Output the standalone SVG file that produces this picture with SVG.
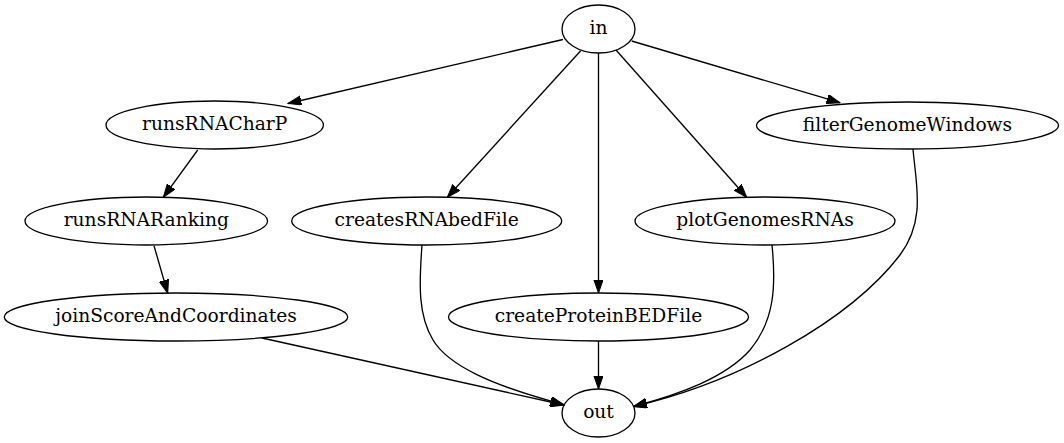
<svg xmlns="http://www.w3.org/2000/svg" width="1064" height="443" viewBox="0 0 1064 443">
<style>
.n ellipse{fill:none;stroke:#000;stroke-width:1.33}
.n text{font-family:"DejaVu Serif","Liberation Serif",serif;font-size:18.67px;text-anchor:middle;fill:#000}
.e path{fill:none;stroke:#000;stroke-width:1.33;marker-end:url(#ah)}
</style>
<defs>
<marker id="ah" markerUnits="userSpaceOnUse" markerWidth="14" markerHeight="10" refX="13.33" refY="4.67" orient="auto">
<polygon points="0,0 13.33,4.67 0,9.33" fill="#000" stroke="#000" stroke-width="1"/>
</marker>
</defs>
<rect width="1064" height="443" fill="#fff"/>
<g id="edges" class="e">
<path d="M563,39.5 L288,103.5"/>
<path d="M580.7,50.7 L447.3,197.3"/>
<path d="M598.5,53 L598.5,293"/>
<path d="M616,50 L746.7,197.3"/>
<path d="M631.7,41 L840,102.7"/>
<path d="M197.7,150 L163.3,197.3"/>
<path d="M154,245.7 L167.7,293.3"/>
<path d="M262,338 L564,405"/>
<path d="M422,245 C419,285 418,315 433,340 C448,365 490,385 563.5,404.5"/>
<path d="M598.5,341 L598.5,389"/>
<path d="M772,245 C776,285 775,320 750,350 C725,378 680,394 633.5,406.5"/>
<path d="M913,149 C916,185 926,220 900,255 C850,320 740,382 633.5,406.5"/>
</g>
<g id="in" class="n"><ellipse cx="598.5" cy="29" rx="36.5" ry="24"/><text x="598.5" y="34">in</text></g>
<g id="runsRNACharP" class="n"><ellipse cx="214.7" cy="125" rx="108.7" ry="24"/><text x="214.7" y="130">runsRNACharP</text></g>
<g id="filterGenomeWindows" class="n"><ellipse cx="907.5" cy="125.5" rx="151" ry="23.5"/><text x="907.5" y="130.5">filterGenomeWindows</text></g>
<g id="runsRNARanking" class="n"><ellipse cx="146.3" cy="221" rx="121.3" ry="24"/><text x="146.3" y="226">runsRNARanking</text></g>
<g id="createsRNAbedFile" class="n"><ellipse cx="426.7" cy="221" rx="135" ry="24"/><text x="426.7" y="226">createsRNAbedFile</text></g>
<g id="plotGenomesRNAs" class="n"><ellipse cx="765" cy="221" rx="130" ry="24"/><text x="765" y="226">plotGenomesRNAs</text></g>
<g id="joinScoreAndCoordinates" class="n"><ellipse cx="176" cy="317" rx="171.7" ry="24"/><text x="176" y="322">joinScoreAndCoordinates</text></g>
<g id="createProteinBEDFile" class="n"><ellipse cx="598.5" cy="317" rx="150" ry="24"/><text x="598.5" y="322">createProteinBEDFile</text></g>
<g id="out" class="n"><ellipse cx="598.5" cy="413" rx="36.5" ry="24"/><text x="598.5" y="418">out</text></g>
</svg>
